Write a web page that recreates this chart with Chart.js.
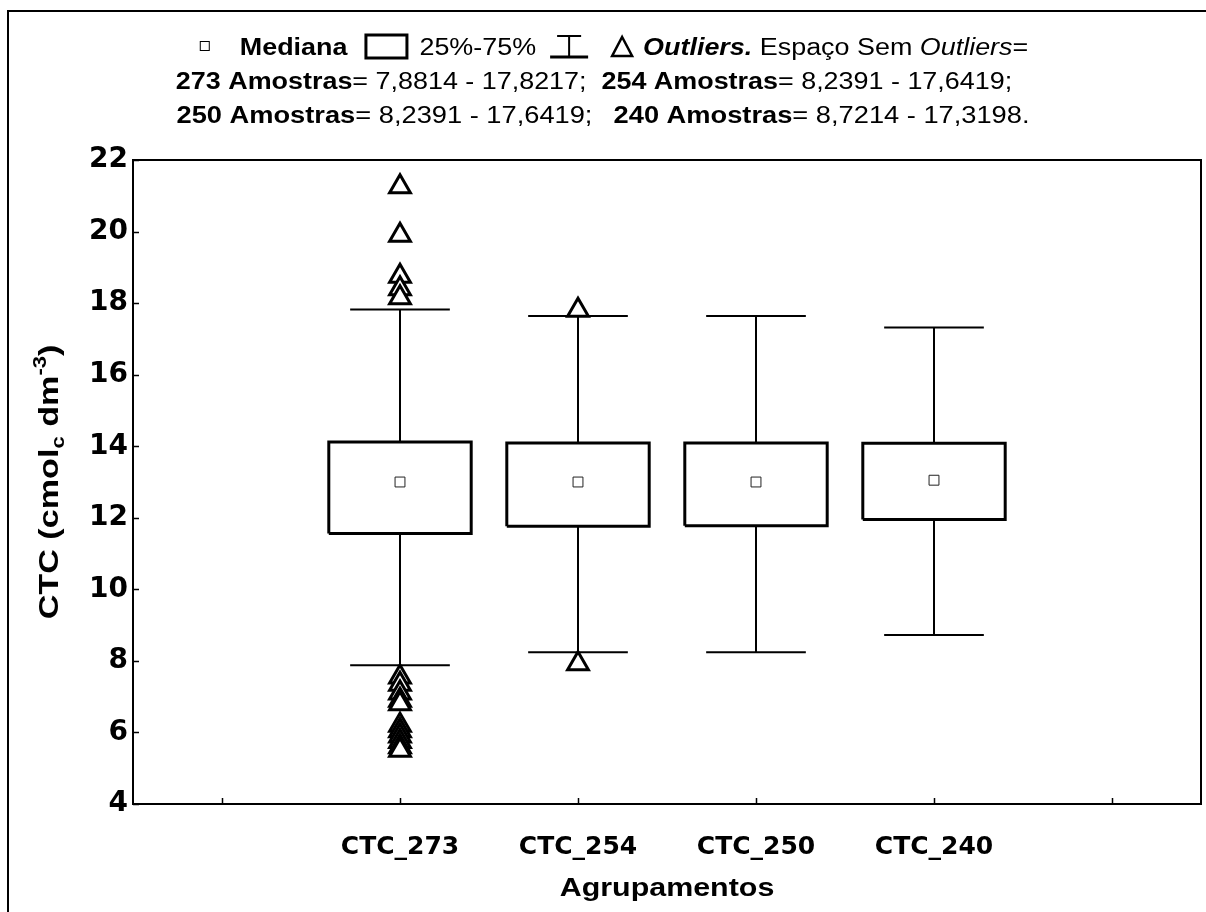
<!DOCTYPE html>
<html>
<head>
<meta charset="utf-8">
<script src="https://cdn.jsdelivr.net/npm/chart.js@4.4.1/dist/chart.umd.min.js"></script>
<style>
  html, body { margin: 0; padding: 0; background: #fff; }
  canvas { display: block; }
</style>
</head>
<body>
<canvas id="c" width="1206" height="912"></canvas>
<script>
// ---------------- data ----------------
const categories   = ['CTC_273', 'CTC_254', 'CTC_250', 'CTC_240'];
const sampleCounts = [273, 254, 250, 240];
const medians      = [13.0, 13.0, 13.0, 13.05];
const q1Values     = [11.56, 11.76, 11.78, 11.95];
const q3Values     = [14.12, 14.09, 14.09, 14.08];
const whiskerLow   = [7.8814, 8.2391, 8.2391, 8.7214];
const whiskerHigh  = [17.8217, 17.6419, 17.6419, 17.3198];
const outliers273  = [21.25, 19.9, 18.75, 18.4, 18.15, 7.55, 7.35, 7.1, 6.9, 6.8, 6.2, 6.05, 5.9, 5.75, 5.6, 5.5];
const outliers254  = [17.8, 7.92];
const outliers250  = [];
const outliers240  = [];
const yTicks       = [4, 6, 8, 10, 12, 14, 16, 18, 20, 22];

const outlierLists = [outliers273, outliers254, outliers250, outliers240];
// slot positions on the x axis: an empty slot on each side of the four groups
const slotLabels = [''].concat(categories, ['']);
const centerOf = i => i + 1.5;
const BOX_HALF = 0.4, CAP_HALF = 0.28;

const boxPts = [], whiskerPts = [], medianPts = [], outlierPts = [];
categories.forEach((c, i) => {
  const x = centerOf(i);
  boxPts.push(
    { x: x - BOX_HALF, y: q1Values[i] }, { x: x + BOX_HALF, y: q1Values[i] },
    { x: x + BOX_HALF, y: q3Values[i] }, { x: x - BOX_HALF, y: q3Values[i] },
    { x: x - BOX_HALF, y: q1Values[i] }, { x: x, y: null });
  whiskerPts.push(
    { x: x, y: q3Values[i] }, { x: x, y: whiskerHigh[i] }, { x: x, y: null },
    { x: x - CAP_HALF, y: whiskerHigh[i] }, { x: x + CAP_HALF, y: whiskerHigh[i] }, { x: x, y: null },
    { x: x, y: q1Values[i] }, { x: x, y: whiskerLow[i] }, { x: x, y: null },
    { x: x - CAP_HALF, y: whiskerLow[i] }, { x: x + CAP_HALF, y: whiskerLow[i] }, { x: x, y: null });
  medianPts.push({ x: x, y: medians[i] });
  outlierLists[i].forEach(v => outlierPts.push({ x: x, y: v }));
});

const FONT = '"Liberation Sans", Arial, sans-serif';
const TICKFONT = '"DejaVu Sans", "Liberation Sans", sans-serif';
const SX = 1.17; // horizontal stretch of custom text

function fmt(v) { return v.toFixed(4).replace('.', ','); }

// draw a sequence of segments centred at cx on baseline y
function drawSegments(ctx, segs, cx, y, sx) {
  let total = 0;
  segs.forEach(s => {
    if (s.text !== undefined) { ctx.font = s.font; s.w = ctx.measureText(s.text).width * sx; }
    total += s.w + (s.gap || 0);
  });
  let x = cx - total / 2;
  segs.forEach(s => {
    if (s.text !== undefined) {
      ctx.save();
      ctx.font = s.font;
      ctx.fillStyle = '#000';
      ctx.textBaseline = 'alphabetic';
      ctx.translate(x, y + (s.dy || 0));
      ctx.scale(sx, 1);
      ctx.fillText(s.text, 0, 0);
      ctx.restore();
    } else {
      ctx.save();
      ctx.strokeStyle = '#000';
      s.draw(ctx, x, y);
      ctx.restore();
    }
    x += s.w + (s.gap || 0);
  });
}

const decor = {
  id: 'decor',
  beforeDraw(chart) {
    const ctx = chart.ctx;
    ctx.save();
    ctx.fillStyle = '#fff';
    ctx.fillRect(0, 0, chart.width, chart.height);
    ctx.restore();
  },
  afterDraw(chart) {
    const ctx = chart.ctx;
    const a = chart.chartArea;
    const xs = chart.scales.x, ys = chart.scales.y;
    ctx.save();
    ctx.strokeStyle = '#000';
    // outer frame (left and top)
    ctx.lineWidth = 2;
    ctx.beginPath();
    ctx.moveTo(8, chart.height); ctx.lineTo(8, 11); ctx.lineTo(chart.width, 11);
    ctx.stroke();
    // plot frame
    ctx.lineWidth = 2;
    ctx.strokeRect(a.left, a.top, a.right - a.left, a.bottom - a.top);
    // inward tick marks
    ctx.lineWidth = 1.5;
    ctx.beginPath();
    ys.ticks.forEach(t => {
      const py = Math.round(ys.getPixelForValue(t.value)) + 0.5;
      ctx.moveTo(a.left, py); ctx.lineTo(a.left + 6, py);
    });
    xs.ticks.forEach(t => {
      const px = Math.round(xs.getPixelForValue(t.value)) + 0.5;
      ctx.moveTo(px, a.bottom); ctx.lineTo(px, a.bottom - 6);
    });
    ctx.stroke();

    // x axis title
    ctx.save();
    ctx.font = 'bold 26px ' + FONT;
    ctx.fillStyle = '#000';
    ctx.textAlign = 'center';
    ctx.textBaseline = 'alphabetic';
    ctx.translate((a.left + a.right) / 2, 896);
    ctx.scale(1.17, 1);
    ctx.fillText('Agrupamentos', 0, 0);
    ctx.restore();

    // y axis title with subscript / superscript
    ctx.save();
    ctx.translate(58, 482);
    ctx.rotate(-Math.PI / 2);
    const big = 'bold 28px ' + FONT, small = 'bold 18px ' + FONT;
    drawSegments(ctx, [
      { text: 'CTC (cmol', font: big },
      { text: 'c', font: small, dy: 6 },
      { text: ' dm', font: big },
      { text: '-3', font: small, dy: -12 },
      { text: ')', font: big }
    ], 0, 0, 1.22);
    ctx.restore();

    // legend / caption
    const B = 'bold 23px ' + FONT, N = '23px ' + FONT, BI = 'italic bold 23px ' + FONT, I = 'italic 23px ' + FONT;
    const line1 = [
      { w: 10, gap: 30, draw: (c, x, y) => { c.lineWidth = 1; c.strokeRect(x + 0.5, y - 13.5, 9, 9); } },
      { text: 'Mediana', font: B, gap: 17 },
      { w: 44, gap: 11, draw: (c, x, y) => { c.lineWidth = 3; c.strokeRect(x + 1.5, y - 20, 41, 23); } },
      { text: '25%-75%', font: N, gap: 14 },
      { w: 38, gap: 23, draw: (c, x, y) => {
          c.lineWidth = 2;
          c.beginPath();
          c.moveTo(x + 7, y - 19); c.lineTo(x + 31, y - 19);
          c.moveTo(x + 19, y - 19); c.lineTo(x + 19, y + 2);
          c.stroke();
          c.lineWidth = 3;
          c.beginPath(); c.moveTo(x, y + 2); c.lineTo(x + 38, y + 2); c.stroke();
        } },
      { w: 22, gap: 10, draw: (c, x, y) => {
          c.lineWidth = 2.5;
          c.beginPath();
          c.moveTo(x + 11, y - 18); c.lineTo(x + 21, y + 1); c.lineTo(x + 1, y + 1); c.closePath();
          c.stroke();
        } },
      { text: 'Outliers.', font: BI, gap: 0 },
      { text: ' Espaço Sem ', font: N, gap: 0 },
      { text: 'Outliers', font: I, gap: 0 },
      { text: '=', font: N }
    ];
    drawSegments(ctx, line1, 614, 55, SX);
    const rangeLine = (i, j, endChar, midGap) => [
      { text: sampleCounts[i] + ' Amostras', font: B },
      { text: '= ' + fmt(whiskerLow[i]) + ' - ' + fmt(whiskerHigh[i]) + ';  ', font: N, gap: midGap },
      { text: sampleCounts[j] + ' Amostras', font: B },
      { text: '= ' + fmt(whiskerLow[j]) + ' - ' + fmt(whiskerHigh[j]) + endChar, font: N }
    ];
    drawSegments(ctx, rangeLine(0, 1, ';', 0), 594, 89, SX);
    drawSegments(ctx, rangeLine(2, 3, '.', 6), 603, 123, 1.185);
    ctx.restore();
  }
};

new Chart(document.getElementById('c'), {
  type: 'scatter',
  data: {
    datasets: [
      { label: 'whiskers', data: whiskerPts, showLine: true, spanGaps: false, borderColor: '#000', borderWidth: 2, pointRadius: 0, order: 4 },
      { label: 'boxes', data: boxPts, showLine: true, spanGaps: false, borderColor: '#000', borderWidth: 3, pointRadius: 0, borderJoinStyle: 'miter', order: 3 },
      { label: 'Mediana', data: medianPts, pointStyle: 'rect', pointRadius: 7, borderWidth: 1, borderColor: '#222', backgroundColor: '#fff', order: 2 },
      { label: 'Outliers', data: outlierPts, pointStyle: 'triangle', pointRadius: 12, borderWidth: 3, borderColor: '#000', backgroundColor: '#fff', order: 1 }
    ]
  },
  options: {
    responsive: false,
    animation: false,
    layout: { autoPadding: false, padding: { top: 160, right: 5, left: 0, bottom: 0 } },
    plugins: { legend: { display: false }, tooltip: { enabled: false } },
    scales: {
      x: {
        type: 'linear', min: 0, max: 6,
        afterBuildTicks: s => { s.ticks = slotLabels.map((l, i) => ({ value: i + 0.5 })); },
        afterFit: s => { s.height = 108; s.paddingLeft = 0; s.paddingRight = 0; },
        ticks: {
          autoSkip: false, maxRotation: 0, padding: 28, color: '#000',
          font: { family: TICKFONT, size: 25, weight: 'bold' },
          callback: v => slotLabels[Math.round(v - 0.5)]
        },
        grid: { drawOnChartArea: false, drawTicks: false },
        border: { color: '#000', width: 2 }
      },
      y: {
        min: 4, max: 22,
        afterBuildTicks: s => { s.ticks = yTicks.map(v => ({ value: v })); },
        afterFit: s => { s.width = 133; },
        ticks: { padding: 5, color: '#000', font: { family: TICKFONT, size: 28, weight: 'bold' } },
        grid: { drawOnChartArea: false, drawTicks: false },
        border: { color: '#000', width: 2 }
      }
    }
  },
  plugins: [decor]
});
</script>
</body>
</html>
